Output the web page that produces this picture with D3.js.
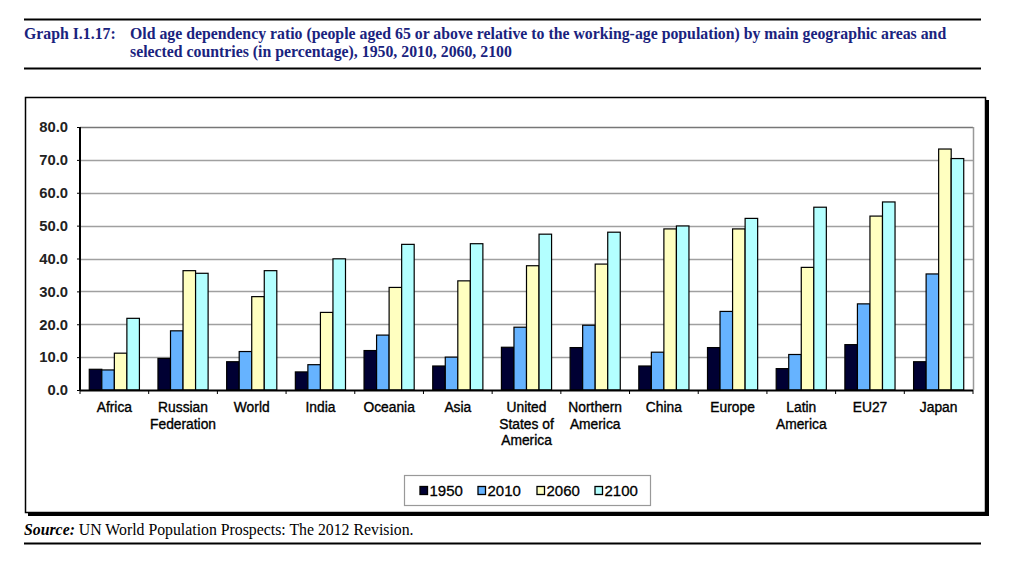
<!DOCTYPE html>
<html><head><meta charset="utf-8">
<script src="https://cdn.jsdelivr.net/npm/d3@7/dist/d3.min.js"></script>
<style>body{margin:0;background:#fff}svg{display:block}</style>
</head><body><svg id="c" width="1024" height="571"></svg>
<script>
const categories = [["Africa"],["Russian","Federation"],["World"],["India"],["Oceania"],["Asia"],["United","States of","America"],["Northern","America"],["China"],["Europe"],["Latin","America"],["EU27"],["Japan"]];
const series = ["1950","2010","2060","2100"];
const v1950 = [6.3, 9.6, 8.6, 5.5, 12.0, 7.3, 13.0, 12.9, 7.3, 12.9, 6.5, 13.8, 8.6];
const v2010 = [6.1, 18.0, 11.7, 7.7, 16.7, 10.0, 19.1, 19.7, 11.5, 23.9, 10.8, 26.2, 35.3];
const v2060 = [11.2, 36.3, 28.4, 23.6, 31.2, 33.2, 37.8, 38.3, 49.0, 49.0, 37.3, 52.9, 73.3];
const v2100 = [21.8, 35.5, 36.3, 39.9, 44.3, 44.5, 47.4, 48.0, 49.9, 52.2, 55.6, 57.2, 70.4];
const yTicks = [0,10,20,30,40,50,60,70,80];
const colors = ["#000033","#66b3ff","#ffffc0","#b3ffff"];
const values = [v1950, v2010, v2060, v2100];

const svg = d3.select("#c");
const navy = "#1a237e";

// title rules
svg.append("line").attr("x1",24).attr("x2",981).attr("y1",19.5).attr("y2",19.5).attr("stroke","#000").attr("stroke-width",2);
svg.append("line").attr("x1",24).attr("x2",981).attr("y1",68.5).attr("y2",68.5).attr("stroke","#000").attr("stroke-width",2);
const tf = "'Liberation Serif','Times New Roman',serif";
const fs = 15.8;
svg.append("text").attr("x",24).attr("y",39).attr("font-family",tf).attr("font-weight","bold").attr("font-size",fs).attr("fill",navy).text("Graph I.1.17:");
svg.append("text").attr("x",130).attr("y",39).attr("font-family",tf).attr("font-weight","bold").attr("font-size",fs).attr("fill",navy).text("Old age dependency ratio (people aged 65 or above relative to the working-age population) by main geographic areas and");
svg.append("text").attr("x",130).attr("y",57).attr("font-family",tf).attr("font-weight","bold").attr("font-size",fs).attr("fill",navy).text("selected countries (in percentage), 1950, 2010, 2060, 2100");

// outer box with shadow
svg.append("rect").attr("x",28).attr("y",100).attr("width",961).attr("height",416).attr("fill","#000");
svg.append("rect").attr("x",25.5).attr("y",97.5).attr("width",960).attr("height",415).attr("fill","#fff").attr("stroke","#000").attr("stroke-width",1.5);

// source
const st = svg.append("text").attr("x",24).attr("y",535).attr("font-family",tf).attr("font-size",15.8).attr("fill","#000");
st.append("tspan").attr("font-weight","bold").attr("font-style","italic").text("Source:");
st.append("tspan").text(" UN World Population Prospects: The 2012 Revision.");
svg.append("line").attr("x1",24).attr("x2",981).attr("y1",543.5).attr("y2",543.5).attr("stroke","#000").attr("stroke-width",2);

// plot
const L = 80, R = 973, T = 127, B = 390;
const x = d3.scaleBand().domain(d3.range(categories.length)).range([L,R]).paddingInner(0.27).paddingOuter(0.135);
const x1 = d3.scaleBand().domain(series).range([0,x.bandwidth()]);
const y = d3.scaleLinear().domain([0,80]).range([B,T]);
const af = "'Liberation Sans',Arial,sans-serif";

const g = svg.append("g");
g.selectAll("line.grid").data(yTicks.filter(d=>d>0)).join("line")
  .attr("x1",L).attr("x2",R).attr("y1",d=>Math.round(y(d))+0.5).attr("y2",d=>Math.round(y(d))+0.5)
  .attr("stroke",d=>d===80?"#777":"#a0a0a0").attr("stroke-width",1.5);
g.append("line").attr("x1",R+0.5).attr("x2",R+0.5).attr("y1",T).attr("y2",B).attr("stroke","#999").attr("stroke-width",1.5);

series.forEach((s,si)=>{
  g.selectAll("rect.s"+si).data(values[si]).join("rect")
    .attr("x",(d,i)=>x(i)+x1(s)).attr("width",x1.bandwidth())
    .attr("y",d=>y(d)).attr("height",d=>B-y(d))
    .attr("fill",colors[si]).attr("stroke","#000").attr("stroke-width",1.2);
});

const yAxis = g.append("g").attr("transform",`translate(${L},0)`)
  .call(d3.axisLeft(y).tickValues(yTicks).tickSize(3).tickFormat(d3.format(".1f")));
yAxis.select(".domain").attr("stroke","#000").attr("stroke-width",2).attr("d",`M0,${T}V${B}`);
yAxis.selectAll(".tick line").attr("stroke","#000");
yAxis.selectAll(".tick text").attr("font-family",af).attr("font-size",14.8).attr("font-weight","bold").attr("fill","#222").attr("x",-12);

const bounds = d3.range(categories.length+1).map(i=>L + i*(R-L)/categories.length);
g.selectAll("line.xt").data(bounds).join("line").attr("x1",d=>d).attr("x2",d=>d).attr("y1",B).attr("y2",B+4).attr("stroke","#000");
g.append("line").attr("x1",L).attr("x2",R).attr("y1",B+0.5).attr("y2",B+0.5).attr("stroke","#000").attr("stroke-width",2);

g.selectAll("text.cat").data(categories).join("text")
  .attr("font-family",af).attr("font-size",13.8).attr("fill","#000").attr("stroke","#000").attr("stroke-width",0.35).attr("text-anchor","middle")
  .attr("transform",(d,i)=>`translate(${(bounds[i]+bounds[i+1])/2},412)`)
  .each(function(d){ d3.select(this).selectAll("tspan").data(d).join("tspan").attr("x",0).attr("dy",(t,j)=>j?16.5:0).text(t=>t); });

// legend
const lg = svg.append("g");
lg.append("rect").attr("x",404.5).attr("y",475.5).attr("width",246).attr("height",30).attr("fill","#fff").attr("stroke","#999").attr("stroke-width",1.2);
const lx = [420,478,537,595];
series.forEach((s,i)=>{
  lg.append("rect").attr("x",lx[i]).attr("y",486.5).attr("width",7.5).attr("height",8).attr("fill",colors[i]).attr("stroke","#000").attr("stroke-width",1.3);
  lg.append("text").attr("x",lx[i]+9.5).attr("y",496).attr("font-family",af).attr("font-size",15).attr("fill","#000").attr("stroke","#000").attr("stroke-width",0.3).text(s);
});
</script></body></html>
